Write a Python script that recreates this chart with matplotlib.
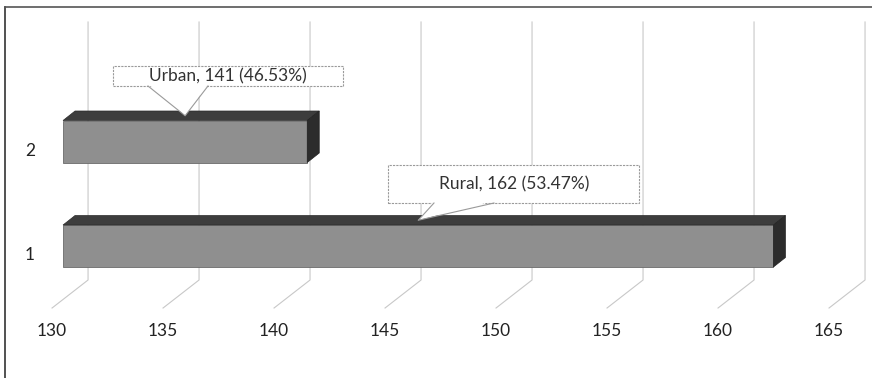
import matplotlib.pyplot as plt
from matplotlib.patches import Polygon, Rectangle
plt.rcParams["font.family"] = ["Lato", "DejaVu Sans"]

# data
categories = [1, 2]
names = ["Rural", "Urban"]
values = [162, 141]
percents = [53.47, 46.53]
ticks = [130, 135, 140, 145, 150, 155, 160, 165]
base = 130

fig = plt.figure(figsize=(8.72, 3.78), dpi=100)
ax = fig.add_axes([0, 0, 1, 1])
ax.set_xlim(127.16, 166.44)
ax.set_ylim(-0.263, 3.354)
ax.axis("off")

# pixel -> data units
PX = 1 / 22.2
PY = 1 / 104.5

# floor + back wall gridlines (3d look)
y_front = 1 - 62 * PY
y_back = 1 - 34 * PY
y_top = 1 + 224 * PY
for t in ticks:
    ax.plot([t - 11 * PX, t + 25 * PX, t + 25 * PX], [y_front, y_back, y_top],
            color="#c8c8c8", lw=0.8, zorder=1)
    ax.text(t - 11 * PX, 1 - 85 * PY, str(t), ha="center", va="center",
            fontsize=12.5, color="#222222")

# bars
h = 42 * PY
dx = 12 * PX
dy = 9.5 * PY
ax.barh(categories, [v - base for v in values], left=base, height=h,
        color="#8f8f8f", edgecolor="#6a6a6a", lw=0.6, zorder=3)
for y, v in zip(categories, values):
    top = [(base, y + h / 2), (v, y + h / 2), (v + dx, y + h / 2 + dy), (base + dx, y + h / 2 + dy)]
    side = [(v, y - h / 2), (v, y + h / 2), (v + dx, y + h / 2 + dy), (v + dx, y - h / 2 + dy)]
    ax.add_patch(Polygon(top, closed=True, fc="#3d3d3d", ec="#2a2a2a", lw=0.5, zorder=4))
    ax.add_patch(Polygon(side, closed=True, fc="#2c2c2c", ec="#222222", lw=0.5, zorder=4))
    ax.text(base - 33 * PX, y - 9 * PY, str(y), ha="center", va="center",
            fontsize=12.5, color="#222222")

# callouts
boxes = {"Rural": (514, 184, 251, 38), "Urban": (228, 76, 230, 20)}
for y, v, n, p in zip(categories, values, names, percents):
    cx, cy, w, hh = boxes[n]
    bx = 127.16 + cx * PX
    by = 1 + (246 - cy) * PY
    ax.add_patch(Rectangle((bx - w / 2 * PX, by - hh / 2 * PY), w * PX, hh * PY,
                           fc="white", ec="#9a9a9a", lw=0.8, ls=(0, (2, 1)), zorder=5))
    tip = ((base + v) / 2, y + h / 2 + dy / 2)
    yb = by - hh / 2 * PY
    x1 = bx - 80 * PX
    x2 = bx - 20 * PX
    ax.add_patch(Polygon([(x1, yb + 2 * PY), tip, (x2, yb + 2 * PY)], closed=True,
                         fc="white", ec="none", zorder=6))
    ax.plot([x1, tip[0], x2], [yb, tip[1], yb], color="#9a9a9a", lw=0.8, zorder=6)
    ax.text(bx, by, "%s, %d (%.2f%%)" % (n, v, p), ha="center", va="center",
            fontsize=12.5, color="#333333", zorder=7)

# chart frame (left and top edges)
fig.add_artist(plt.Line2D([5 / 872, 5 / 872], [0, 1 - 7 / 378], color="#333333", lw=1.2))
fig.add_artist(plt.Line2D([5 / 872, 1], [1 - 7 / 378, 1 - 7 / 378], color="#555555", lw=1.2))

fig.savefig("out.png", dpi=100)
